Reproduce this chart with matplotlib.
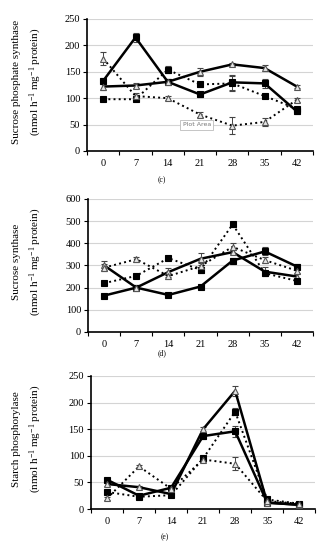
import numpy as np
import matplotlib
matplotlib.use("Agg")
import matplotlib.pyplot as plt

plt.rcParams["font.family"] = ["Liberation Serif", "DejaVu Serif"]
plt.rcParams["mathtext.default"] = "regular"

# ==========================
# data
# ==========================
days = ["0", "7", "14", "21", "28", "35", "42"]

# (c) sucrose phosphate synthase
sps_sq_solid = [133, 215, 131, 107, 130, 128, 75]
sps_tri_solid = [122, 124, 131, 150, 164, 157, 122]
sps_sq_dot = [98, 98, 154, 126, 128, 104, 80]
sps_tri_dot = [175, 104, 100, 69, 48, 55, 97]
sps_sq_solid_err = [6, 8, 5, 4, 14, 9, 5]
sps_tri_solid_err = [7, 5, 5, 8, 3, 5, 3]
sps_sq_dot_err = [4, 4, 7, 4, 14, 4, 4]
sps_tri_dot_err = [12, 6, 4, 4, 16, 8, 4]

# (d) sucrose synthase
ss_sq_solid = [164, 200, 167, 205, 322, 363, 295]
ss_tri_solid = [300, 200, 270, 330, 360, 272, 250]
ss_sq_dot = [220, 253, 333, 280, 485, 265, 230]
ss_tri_dot = [290, 328, 252, 297, 384, 324, 276]
ss_sq_solid_err = [8, 8, 8, 8, 10, 18, 10]
ss_tri_solid_err = [20, 10, 20, 28, 10, 20, 10]
ss_sq_dot_err = [8, 10, 10, 15, 10, 10, 10]
ss_tri_dot_err = [15, 12, 15, 15, 15, 15, 12]

# (e) starch phosphorylase
sp_sq_solid = [55, 25, 40, 137, 146, 12, 8]
sp_tri_solid = [47, 41, 28, 150, 222, 12, 8]
sp_sq_dot = [32, 23, 26, 95, 183, 18, 10]
sp_tri_dot = [20, 80, 38, 93, 85, 15, 10]
sp_sq_solid_err = [3, 3, 3, 5, 10, 2, 2]
sp_tri_solid_err = [3, 3, 3, 5, 10, 2, 2]
sp_sq_dot_err = [3, 2, 2, 5, 6, 2, 2]
sp_tri_dot_err = [3, 3, 3, 4, 12, 2, 2]


def draw_series(ax, x, y, err, marker, ls):
    if marker == "s":
        mfc, mec, ms = "black", "black", 5
    else:
        mfc, mec, ms = "#e6e6e6", "#555555", 5
    lw = 1.8 if ls == "-" else 1.4
    ax.errorbar(x, y, yerr=err, color="black", ls=ls, lw=lw,
                marker=marker, ms=ms, mfc=mfc, mec=mec, mew=0.8,
                ecolor="#444444", elinewidth=0.7, capsize=2, capthick=0.7,
                zorder=3)


def setup_axes(ax, ymax, ystep, ylabel, tag, tag_y):
    ax.set_xlim(-0.5, 6.5)
    ax.set_ylim(0, ymax)
    ax.set_yticks(np.arange(0, ymax + 1, ystep))
    ax.set_xticks(range(len(days)))
    ax.set_xticklabels(days)
    ax.set_xticks(np.arange(-0.5, 7, 1), minor=True)
    ax.tick_params(axis="x", which="major", length=0, labelsize=7.5, pad=6)
    ax.tick_params(axis="x", which="minor", length=3, width=0.8, direction="out")
    ax.tick_params(axis="y", length=3, width=0.8, labelsize=7.5, pad=2)
    ax.grid(axis="y", color="#d4d4d4", lw=0.8)
    ax.set_axisbelow(True)
    for side in ["top", "right"]:
        ax.spines[side].set_visible(False)
    ax.spines["left"].set_linewidth(1.2)
    ax.spines["bottom"].set_linewidth(1.2)
    ax.set_ylabel(ylabel, fontsize=8, linespacing=1.6)
    # two-line label sits at the same place for every panel
    pos = ax.get_position()
    ax.yaxis.set_label_coords(0.134, pos.y0 + pos.height / 2 + 0.006,
                              transform=ax.figure.transFigure)
    ax.text(0.33, tag_y, tag, transform=ax.transAxes, fontsize=5.5,
            ha="center", va="center")


fig = plt.figure(figsize=(3.25, 5.5), dpi=100)

panels = [
    ([0.268, 0.7255, 0.695, 0.240], 250, 50,
     "Sucrose phosphate synthase\n(nmol h$^{-1}$ mg$^{-1}$ protein)", "(c)", -0.22,
     [(sps_sq_solid, sps_sq_solid_err, "s", "-"),
      (sps_tri_solid, sps_tri_solid_err, "^", "-"),
      (sps_sq_dot, sps_sq_dot_err, "s", ":"),
      (sps_tri_dot, sps_tri_dot_err, "^", ":")]),
    ([0.271, 0.3964, 0.692, 0.242], 600, 100,
     "Sucrose synthase\n(nmol h$^{-1}$ mg$^{-1}$ protein)", "(d)", -0.16,
     [(ss_sq_solid, ss_sq_solid_err, "s", "-"),
      (ss_tri_solid, ss_tri_solid_err, "^", "-"),
      (ss_sq_dot, ss_sq_dot_err, "s", ":"),
      (ss_tri_dot, ss_tri_dot_err, "^", ":")]),
    ([0.280, 0.0745, 0.690, 0.242], 250, 50,
     "Starch phosphorylase\n(nmol h$^{-1}$ mg$^{-1}$ protein)", "(e)", -0.21,
     [(sp_sq_solid, sp_sq_solid_err, "s", "-"),
      (sp_tri_solid, sp_tri_solid_err, "^", "-"),
      (sp_sq_dot, sp_sq_dot_err, "s", ":"),
      (sp_tri_dot, sp_tri_dot_err, "^", ":")]),
]

x = np.arange(len(days))
axes = []
for rect, ymax, ystep, ylabel, tag, tag_y, series in panels:
    ax = fig.add_axes(rect)
    for y, err, marker, ls in series:
        draw_series(ax, x, y, err, marker, ls)
    setup_axes(ax, ymax, ystep, ylabel, tag, tag_y)
    axes.append(ax)

# leftover "Plot Area" tooltip seen in the original screenshot
axes[0].text(0.485, 0.2, "Plot Area", transform=axes[0].transAxes,
             family="DejaVu Sans", fontsize=4.5, color="#777777",
             ha="center", va="center",
             bbox=dict(boxstyle="square,pad=0.4", fc="white", ec="#bbbbbb", lw=0.6))

fig.savefig("out.png", dpi=100)
